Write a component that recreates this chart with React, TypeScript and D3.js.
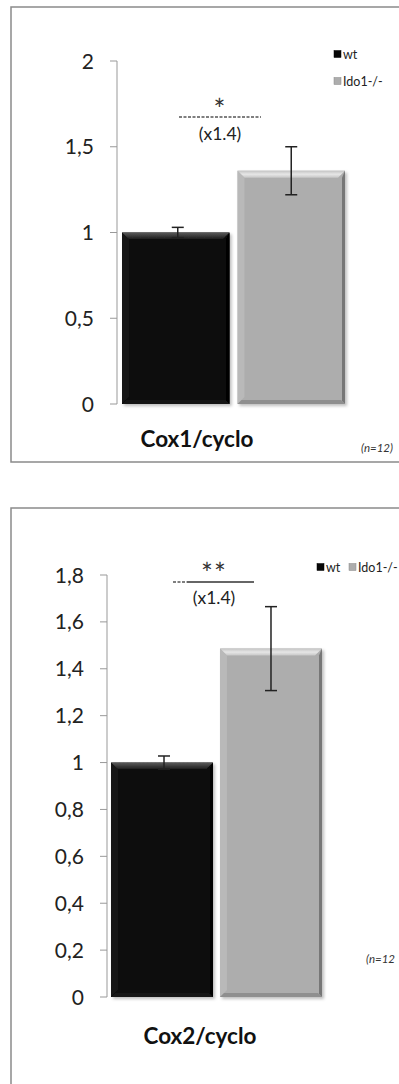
import React from "react";
import * as d3 from "d3";

const seriesNames = ["wt", "Ido1-/-"];
const seriesColors = ["#070707", "#adadad"];

const cox1Means = [1.0, 1.36];
const cox1Errors = [0.03, 0.14];
const cox1Ticks = [0, 0.5, 1, 1.5, 2];

const cox2Means = [1.0, 1.486];
const cox2Errors = [0.028, 0.179];
const cox2Ticks = [0, 0.2, 0.4, 0.6, 0.8, 1, 1.2, 1.4, 1.6, 1.8];

const titles = ["Cox1/cyclo", "Cox2/cyclo"];
const nLabels = ["(n=12)", "(n=12"];
const foldLabel = "(x1.4)";
const stars = ["*", "**"];

const FONT = "Lato, 'Open Sans', sans-serif";

type PanelCfg = {
  means: number[];
  errors: number[];
  ticks: number[];
  title: string;
  nLabel: string;
  star: string;
  box: { x: number; y: number; w: number; h: number };
  axisX: number;
  y0: number;
  yTop: number;
  barRange: [number, number];
  pad: number;
  legendInline: boolean;
  legendX: number;
  legendY: number;
  sig: { x1: number; x2: number; y: number; starY: number; foldY: number; cx: number; dashedTo: number };
  titleX: number;
  titleY: number;
  nX: number;
  nY: number;
  tickFont: number;
};

const fmt = (v: number) => {
  const s = d3.format("~g")(v);
  return s.replace(".", ",");
};

function Bar({ x, y, w, h, color }: { x: number; y: number; w: number; h: number; color: string }) {
  const dark = color === "#070707";
  const b = 7;
  const top = dark ? `url(#topDark)` : `url(#topLight)`;
  const left = dark ? "#1a1a1a" : "#bdbdbd";
  const right = dark ? "#000" : "#777";
  const bottom = dark ? "#151515" : "#8f8f8f";
  return (
    <g filter="url(#shadow)">
      <rect x={x} y={y} width={w} height={h} fill={color} />
      <polygon points={`${x},${y} ${x + w},${y} ${x + w - b},${y + b} ${x + b},${y + b}`} fill={top} />
      <polygon points={`${x},${y} ${x + b},${y + b} ${x + b},${y + h - b} ${x},${y + h}`} fill={left} opacity={0.7} />
      <polygon points={`${x + w},${y} ${x + w},${y + h} ${x + w - 3},${y + h - 3} ${x + w - 3},${y + b}`} fill={right} />
      <polygon points={`${x},${y + h} ${x + w},${y + h} ${x + w - 4},${y + h - 4} ${x + 4},${y + h - 4}`} fill={bottom} />
    </g>
  );
}

function Panel({ c }: { c: PanelCfg }) {
  const maxT = c.ticks[c.ticks.length - 1];
  const y = d3.scaleLinear().domain([0, maxT]).range([c.y0, c.yTop]);
  const x = d3.scaleBand<string>().domain(seriesNames).range(c.barRange).paddingInner(c.pad).paddingOuter(0);
  return (
    <g>
      <rect x={c.box.x} y={c.box.y} width={c.box.w} height={c.box.h} fill="#fff" stroke="#8a8a8a" strokeWidth={1.5} />
      <line x1={c.axisX} x2={c.axisX} y1={y(0)} y2={y(maxT)} stroke="#999" strokeWidth={1} />
      {c.ticks.map((t) => (
        <g key={t}>
          <line x1={c.axisX - 7} x2={c.axisX} y1={y(t)} y2={y(t)} stroke="#999" strokeWidth={1} />
          <text x={c.axisX - 23} y={y(t)} dy="0.36em" textAnchor="end" fontFamily={FONT} fontSize={c.tickFont} fill="#222">
            {fmt(t)}
          </text>
        </g>
      ))}
      {seriesNames.map((s, i) => (
        <Bar key={s} x={x(s)!} y={y(c.means[i])} w={x.bandwidth()} h={y(0) - y(c.means[i])} color={seriesColors[i]} />
      ))}
      {seriesNames.map((s, i) => {
        const cx = x(s)! + x.bandwidth() / 2 + (i === 0 ? 2 : 0);
        const hi = y(c.means[i] + c.errors[i]);
        const lo = y(c.means[i] - c.errors[i]);
        return (
          <g key={s} stroke="#222" strokeWidth={1.5}>
            <line x1={cx} x2={cx} y1={hi} y2={lo} />
            <line x1={cx - 6} x2={cx + 6} y1={hi} y2={hi} />
            <line x1={cx - 6} x2={cx + 6} y1={lo} y2={lo} />
          </g>
        );
      })}
      {/* significance */}
      <text x={c.sig.cx} y={c.sig.starY} textAnchor="middle" fontFamily={FONT} fontSize={28} fill="#333" letterSpacing={1}>
        {c.star}
      </text>
      <line x1={c.sig.x1} x2={c.sig.dashedTo} y1={c.sig.y} y2={c.sig.y} stroke="#555" strokeWidth={1.3} strokeDasharray="3,1.5" />
      {c.sig.dashedTo < c.sig.x2 && (
        <line x1={c.sig.dashedTo} x2={c.sig.x2} y1={c.sig.y} y2={c.sig.y} stroke="#333" strokeWidth={1.5} />
      )}
      <text x={c.sig.cx} y={c.sig.foldY} dy="0.35em" textAnchor="middle" fontFamily={FONT} fontSize={17.5} fill="#222">
        {foldLabel}
      </text>
      {/* legend */}
      {seriesNames.map((s, i) => {
        const lx = c.legendInline ? c.legendX + i * 32 : c.legendX;
        const ly = c.legendInline ? c.legendY : c.legendY + i * 27;
        return (
          <g key={s}>
            <rect x={lx} y={ly - 3.5} width={7} height={7} fill={seriesColors[i]} stroke={i === 0 ? "#000" : "#888"} strokeWidth={0.5} />
            <text x={lx + 9} y={ly} dy="0.36em" fontFamily={FONT} fontSize={12.5} fill="#222">
              {s}
            </text>
          </g>
        );
      })}
      <text x={c.titleX} y={c.titleY} dy="0.36em" textAnchor="middle" fontFamily={FONT} fontWeight="bold" fontSize={22.5} fill="#111">
        {c.title}
      </text>
      <text x={c.nX} y={c.nY} dy="0.36em" fontFamily={FONT} fontStyle="italic" fontSize={11.5} fill="#333">
        {c.nLabel}
      </text>
    </g>
  );
}

const panels: PanelCfg[] = [
  {
    means: cox1Means,
    errors: cox1Errors,
    ticks: cox1Ticks,
    title: titles[0],
    nLabel: nLabels[0],
    star: stars[0],
    box: { x: 11, y: 7, w: 420, h: 455 },
    axisX: 117,
    y0: 404,
    yTop: 61,
    barRange: [122, 345],
    pad: 0.069,
    legendInline: false,
    legendX: 334,
    legendY: 54,
    sig: { x1: 179, x2: 261, y: 117, starY: 120, foldY: 134, cx: 220, dashedTo: 261 },
    titleX: 197,
    titleY: 439,
    nX: 361,
    nY: 448,
    tickFont: 21,
  },
  {
    means: cox2Means,
    errors: cox2Errors,
    ticks: cox2Ticks,
    title: titles[1],
    nLabel: nLabels[1],
    star: stars[1],
    box: { x: 11, y: 508, w: 420, h: 620 },
    axisX: 107,
    y0: 997,
    yTop: 575,
    barRange: [111, 322],
    pad: 0.064,
    legendInline: true,
    legendX: 317,
    legendY: 567,
    sig: { x1: 173, x2: 254, y: 582, starY: 584, foldY: 598, cx: 214, dashedTo: 187 },
    titleX: 200,
    titleY: 1036,
    nX: 366,
    nY: 959,
    tickFont: 21,
  },
];

export default function App() {
  return (
    <svg width={399} height={1084} style={{ position: "absolute", left: 0, top: 0, background: "#fff" }}>
      <defs>
        <linearGradient id="topDark" x1="0" y1="0" x2="0" y2="1">
          <stop offset="0" stopColor="#5a5a5a" />
          <stop offset="1" stopColor="#1a1a1a" />
        </linearGradient>
        <linearGradient id="topLight" x1="0" y1="0" x2="0" y2="1">
          <stop offset="0" stopColor="#c4c4c4" />
          <stop offset="0.5" stopColor="#e6e6e6" />
          <stop offset="1" stopColor="#c6c6c6" />
        </linearGradient>
        <filter id="shadow" x="-10%" y="-10%" width="125%" height="125%">
          <feDropShadow dx="2" dy="2" stdDeviation="1.5" floodColor="#000" floodOpacity="0.25" />
        </filter>
      </defs>
      {panels.map((p, i) => (
        <Panel key={i} c={p} />
      ))}
    </svg>
  );
}
